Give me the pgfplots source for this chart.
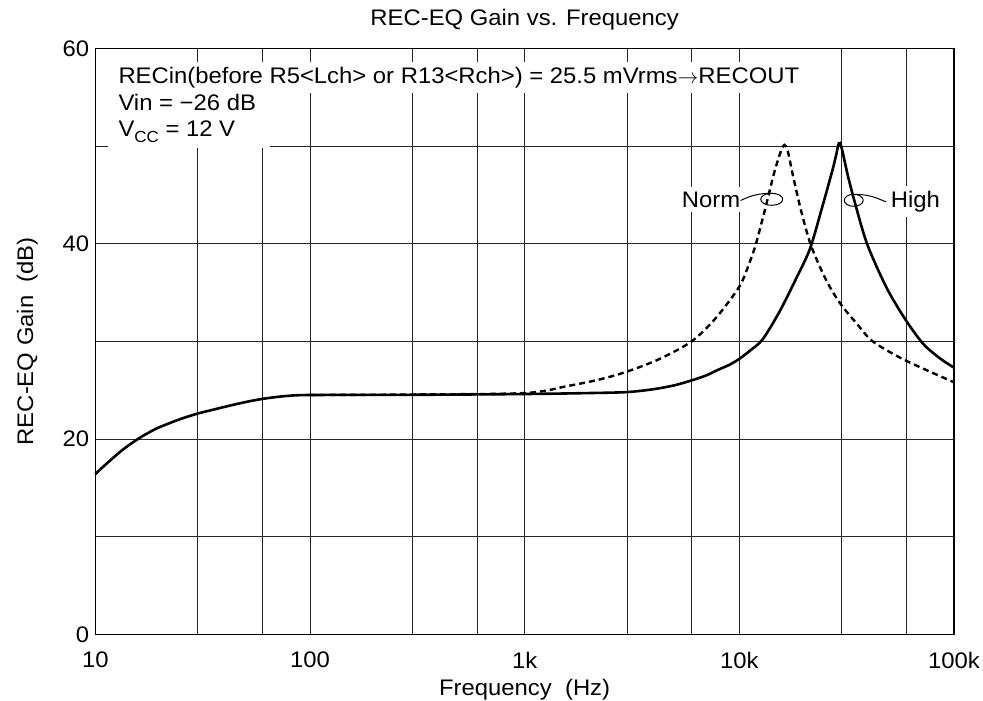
\documentclass[border=0pt]{standalone}
\usepackage{fontspec}
\setmainfont{Liberation Sans}[FakeStretch=1.06]
\usepackage{pgfplots}
\pgfplotsset{compat=1.18}
\pgfplotstableread{
f g
10 16.4
11 17.25
12.6 18.4
14 19.2
16.2 20.15
19 21.0
21.5 21.5
25 22.05
30 22.6
37 23.1
44 23.5
52 23.85
60 24.1
70 24.3
80 24.42
100 24.5
300 24.52
1000 24.6
2000 24.7
3000 24.8
4000 25.1
5000 25.5
6000 26.0
7000 26.5
8000 27.1
9000 27.6
10000 28.2
11300 29.1
12840 30.2
15360 33.0
18370 36.4
21350 39.5
24440 43.9
27210 47.6
28200 49.0
29450 50.3
32000 47.0
34340 44.4
39330 40.0
48220 35.6
58700 32.4
71450 29.8
85450 28.3
100000 27.3
}\high
\pgfplotstableread{
f g
100 24.5
300 24.55
1000 24.7
1570 25.4
2240 26.1
3000 26.9
4260 28.2
6000 30.0
7785 32.4
10000 35.6
11130 38.0
11960 40.0
13310 43.9
14550 47.3
15640 49.5
16220 50.1
16800 49.5
17720 47.1
19380 43.4
21580 39.8
25330 36.3
29450 33.9
34960 31.9
41800 30.0
58700 28.1
100000 25.8
}\norm
\begin{document}
\fontsize{22.5}{27}\selectfont
\begin{tikzpicture}[font=\fontsize{22.5}{27}\selectfont]
\begin{axis}[
  scale only axis,
  width=858.7pt, height=586pt,
  xmode=log, xmin=10, xmax=100000, ymin=0, ymax=60,
  xtick={10,30,60,100,300,600,1000,3000,6000,10000,30000,60000,100000},
  xticklabels={10,,,100,,,1k,,,10k,,,100k},
  ytick={0,10,20,30,40,50,60},
  yticklabels={0,,20,,40,,60},
  grid=major,
  major grid style={line width=0.9pt, black!85},
  major tick length=0pt,
  axis line style={line width=1.5pt},
  xticklabel style={yshift=-10pt},
  yticklabel style={xshift=1.5pt},
  title={REC-EQ Gain vs. Frequency},
  title style={at={(axis description cs:0.5,1.0295)}, anchor=base, inner sep=0pt},
  xlabel={Frequency\ \ (Hz)},
  xlabel style={at={(axis description cs:0.5,-0.1036)}, anchor=base, inner sep=0pt},
  ylabel={REC-EQ Gain\ \ (dB)},
  ylabel style={at={(axis description cs:-0.0667,0.5)}, anchor=south, inner sep=0pt},
  clip=false,
]
\coordinate (SW) at (axis description cs:0,0);
\coordinate (NE) at (axis description cs:1,1);
\fill[white] (axis description cs:0.0171,0.9235) rectangle (axis description cs:0.8347,0.9765);
\fill[white] (axis description cs:0.0148,0.8297) rectangle (axis description cs:0.2033,0.9235);
\node[anchor=base west, inner sep=0pt] at (axis description cs:0.0268,0.9391) {RECin(before R5<Lch> or R13<Rch>) = 25.5 mVrms\ensuremath{\rightarrow}RECOUT};
\node[anchor=base west, inner sep=0pt] at (axis description cs:0.0268,0.893) {Vin = −26 dB};
\node[anchor=base west, inner sep=0pt] at (axis description cs:0.0268,0.8491) {V\raisebox{-5.5pt}{\fontsize{16}{16}\selectfont CC} = 12 V};
\node[anchor=base west, fill=white, inner xsep=3pt, inner ysep=5pt, xshift=-3pt] at (axis description cs:0.6829,0.7287) {Norm};
\node[anchor=base west, fill=white, inner xsep=3pt, inner ysep=5pt, xshift=-3pt] at (axis description cs:0.9263,0.7287) {High};
\addplot[black, line width=2.6pt, smooth] table[x=f, y=g] {\high};
\addplot[black, line width=2.4pt, dash pattern=on 6pt off 4pt, smooth] table[x=f, y=g] {\norm};
\draw[line width=1pt] (axis description cs:0.7877,0.7423) ellipse [x radius=11pt, y radius=6pt];
\draw[line width=1pt] (axis description cs:0.7514,0.7403) to[out=25,in=180] (axis description cs:0.7877,0.7525);
\draw[line width=1pt] (axis description cs:0.8832,0.7406) ellipse [x radius=9.5pt, y radius=6pt];
\draw[line width=1pt] (axis description cs:0.8832,0.7508) to[out=0,in=155] (axis description cs:0.9208,0.7377);
\end{axis}
\pgfresetboundingbox
\path[use as bounding box] ([shift={(-95.3pt,-66.7pt)}]SW) rectangle ([shift={(29pt,48.3pt)}]NE);
\end{tikzpicture}
\end{document}
